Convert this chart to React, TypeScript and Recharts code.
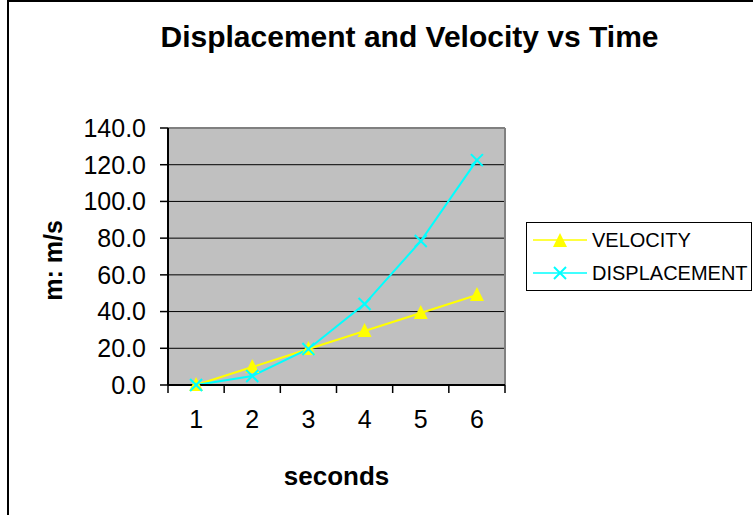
import React from 'react';
import { LineChart, Line, XAxis, YAxis, CartesianGrid, Legend, ReferenceLine, Label } from 'recharts';

// values
const seconds = [1, 2, 3, 4, 5, 6];
const velocity = [0, 9.8, 19.6, 29.4, 39.2, 49.0];
const displacement = [0, 4.9, 19.6, 44.1, 78.4, 122.5];
const yTicks = [0, 20, 40, 60, 80, 100, 120, 140];
const legendOrder = ['velocity', 'displacement'];

const data = seconds.map((t, i) => ({ t, velocity: velocity[i], displacement: displacement[i] }));
// ticks on category centres (labels) and on category edges (tick marks)
const xTicks = [...seconds.flatMap((s) => [s - 0.5, s]), seconds[seconds.length - 1] + 0.5];

const FONT = '"Liberation Sans", Arial, sans-serif';
const YELLOW = '#FFFF00';
const CYAN = '#00FFFF';

function TriangleDot({ cx, cy }: any) {
  if (cx == null || cy == null) return null;
  return <polygon points={`${cx},${cy - 8} ${cx - 7},${cy + 6} ${cx + 7},${cy + 6}`} fill={YELLOW} stroke="none" />;
}

function CrossDot({ cx, cy }: any) {
  if (cx == null || cy == null) return null;
  return (
    <g stroke={CYAN} strokeWidth={2}>
      <line x1={cx - 6} y1={cy - 6} x2={cx + 6} y2={cy + 6} />
      <line x1={cx - 6} y1={cy + 6} x2={cx + 6} y2={cy - 6} />
    </g>
  );
}

function XTick({ x, y, payload }: any) {
  const v = payload.value;
  if (Number.isInteger(v)) {
    return (
      <text x={x} y={y + 17} dy="0.71em" textAnchor="middle" fontSize={25} fontFamily={FONT} fill="#000">
        {v}
      </text>
    );
  }
  return <line x1={x} y1={y - 8} x2={x} y2={y} stroke="#000" strokeWidth={1.5} />;
}

function YTitle({ viewBox }: any) {
  const x = viewBox.x + 54;
  const y = viewBox.y + viewBox.height / 2 + 4;
  return (
    <text x={x} y={y} transform={`rotate(-90, ${x}, ${y})`} textAnchor="middle" fontSize={25} fontWeight="bold" fontFamily={FONT} fill="#000">
      m: m/s
    </text>
  );
}

function XTitle({ viewBox }: any) {
  return (
    <text x={viewBox.x + viewBox.width / 2} y={viewBox.y + viewBox.height} textAnchor="middle" fontSize={26} fontWeight="bold" fontFamily={FONT} fill="#000">
      seconds
    </text>
  );
}

function LegendBox({ payload }: any) {
  const items = [...(payload || [])].sort((a: any, b: any) => legendOrder.indexOf(a.dataKey) - legendOrder.indexOf(b.dataKey));
  return (
    <div style={{ boxSizing: 'border-box', width: '100%', height: '100%', border: '1px solid #000', background: '#fff' }}>
      {items.map((item: any) => (
        <div key={item.value} style={{ display: 'flex', alignItems: 'center', height: 33, paddingLeft: 6 }}>
          <svg width={54} height={20}>
            <line x1={0} y1={10} x2={54} y2={10} stroke={item.color} strokeWidth={1.5} />
            {item.dataKey === 'velocity' ? <TriangleDot cx={27} cy={11} /> : <CrossDot cx={27} cy={10} />}
          </svg>
          <span style={{ marginLeft: 5, fontSize: 20, fontFamily: FONT, color: '#000', lineHeight: '20px' }}>{item.value}</span>
        </div>
      ))}
    </div>
  );
}

export default function App() {
  return (
    <div style={{ position: 'absolute', left: 0, top: 0, width: 753, height: 515, overflow: 'hidden', background: '#fff' }}>
      <div style={{ position: 'absolute', left: 7, top: 0, width: 800, height: 600, borderLeft: '2px solid #000', borderTop: '2px solid #000' }} />
      <div style={{ position: 'absolute', left: 0, top: 22, width: 819, textAlign: 'center', fontFamily: FONT, fontWeight: 'bold', fontSize: 30, lineHeight: '30px', color: '#000' }}>
        Displacement and Velocity vs Time
      </div>
      <LineChart width={753} height={515} data={data} margin={{ top: 128, right: 248, left: 8, bottom: 30 }}>
        <CartesianGrid vertical={false} stroke="#000" fill="#C0C0C0" fillOpacity={1} />
        <XAxis
          dataKey="t"
          type="number"
          domain={[0.5, 6.5]}
          ticks={xTicks}
          interval={0}
          tickLine={false}
          tickSize={8}
          tickMargin={0}
          axisLine={{ stroke: '#000', strokeWidth: 2 }}
          height={100}
          tick={<XTick />}
        >
          <Label content={<XTitle />} />
        </XAxis>
        <YAxis
          domain={[0, 140]}
          ticks={yTicks}
          interval={0}
          tickFormatter={(v: number) => v.toFixed(1)}
          tickSize={8}
          tickMargin={14}
          tickLine={{ stroke: '#000', strokeWidth: 1.5 }}
          axisLine={{ stroke: '#000', strokeWidth: 2 }}
          tick={{ fill: '#000', fontSize: 25, fontFamily: FONT }}
          width={160}
        >
          <Label content={<YTitle />} />
        </YAxis>
        <ReferenceLine y={140} stroke="#808080" strokeWidth={2} />
        <ReferenceLine x={6.5} stroke="#808080" strokeWidth={2} />
        <Line dataKey="velocity" name="VELOCITY" stroke={YELLOW} strokeWidth={2} dot={<TriangleDot />} activeDot={false} isAnimationActive={false} />
        <Line dataKey="displacement" name="DISPLACEMENT" stroke={CYAN} strokeWidth={2} dot={<CrossDot />} activeDot={false} isAnimationActive={false} />
        <Legend
          layout="horizontal"
          align="center"
          verticalAlign="middle"
          content={<LegendBox />}
          wrapperStyle={{ left: 526, top: 222, width: 226, height: 69 }}
        />
      </LineChart>
    </div>
  );
}
